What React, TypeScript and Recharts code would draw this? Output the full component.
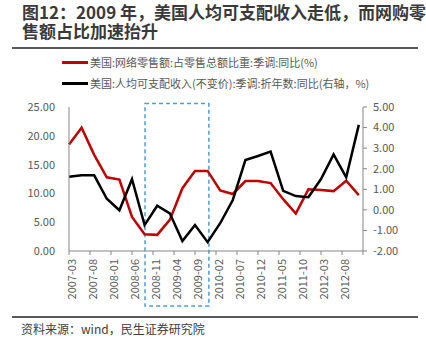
import React from "react";
import {
  ComposedChart,
  Line,
  XAxis,
  YAxis,
  ReferenceArea,
} from "recharts";

// 季度数据
const quarters = [
  "2007-03", "2007-06", "2007-09", "2007-12",
  "2008-03", "2008-06", "2008-09", "2008-12",
  "2009-03", "2009-06", "2009-09", "2009-12",
  "2010-03", "2010-06", "2010-09", "2010-12",
  "2011-03", "2011-06", "2011-09", "2011-12",
  "2012-03", "2012-06", "2012-09", "2012-12",
];

// 美国:网络零售额:占零售总额比重:季调:同比(%)
const onlineShare = [
  18.5, 21.4, 16.7, 12.8, 12.4, 5.9, 2.9, 2.8,
  5.4, 10.9, 13.9, 13.9, 10.5, 9.9, 12.15, 12.15,
  11.8, 9.0, 6.5, 10.7, 10.6, 10.4, 12.2, 9.7,
];

// 美国:人均可支配收入(不变价):季调:折年数:同比(右轴，%)
const incomeYoY = [
  1.61, 1.68, 1.68, 0.54, -0.02, 1.49, -0.74, 0.2,
  -0.17, -1.52, -0.74, -1.57, -0.65, 0.48, 2.42, 2.62,
  2.83, 0.92, 0.67, 0.61, 1.5, 2.7, 1.58, 4.13,
];

const tickLabels = [
  "2007-03", "2007-08", "2008-01", "2008-06", "2008-11", "2009-04", "2009-09",
  "2010-02", "2010-07", "2010-12", "2011-05", "2011-10", "2012-03", "2012-08",
];

const leftTicks = [0, 5, 10, 15, 20, 25];
const rightTicks = [-2, -1, 0, 1, 2, 3, 4, 5];

// 虚线框（2008-09 ~ 2009-12）
const boxStart = "2008-09";
const boxEnd = "2009-12";

const monthIndex = (s: string) => {
  const [y, m] = s.split("-").map(Number);
  return (y - 2007) * 12 + (m - 3);
};

const data = quarters.map((q, i) => ({
  m: monthIndex(q),
  share: onlineShare[i],
  income: incomeYoY[i],
}));

const xTicks = [...tickLabels.map(monthIndex), monthIndex("2013-01")];
const labelByIndex: Record<number, string> = {};
tickLabels.forEach((t) => (labelByIndex[monthIndex(t)] = t));

const FONT = "'Noto Sans CJK SC', 'Noto Sans', sans-serif";
const AXIS = "#868686";
const LABEL = "#595959";

function XTick({ x, y, payload }: any) {
  const text = labelByIndex[payload.value] ?? "";
  return (
    <text
      transform={`translate(${x + 2},${y + 2}) rotate(-90)`}
      textAnchor="end"
      dominantBaseline="central"
      fontSize={11}
      fill={LABEL}
      fontFamily={FONT}
    >
      {text}
    </text>
  );
}

export default function App() {
  return (
    <div
      style={{
        position: "absolute",
        left: 0,
        top: 0,
        width: 426,
        height: 348,
        background: "#fff",
        fontFamily: FONT,
        overflow: "hidden",
      }}
    >
      <div
        style={{
          position: "absolute",
          left: 22,
          top: 2,
          fontSize: 17,
          fontWeight: 700,
          color: "#3a3a3a",
          whiteSpace: "nowrap",
        }}
      >
        <div style={{ height: 19, lineHeight: "19px" }}>图12：2009 年，美国人均可支配收入走低，而网购零</div>
        <div style={{ height: 19, lineHeight: "19px" }}>售额占比加速抬升</div>
      </div>
      <div style={{ position: "absolute", left: 12, top: 47, width: 406, height: 2, background: "#595959" }} />

      <div style={{ position: "absolute", left: 62, top: 54, fontSize: 11, color: LABEL, lineHeight: "17px" }}>
        <div style={{ display: "flex", alignItems: "center", height: 17 }}>
          <span style={{ display: "inline-block", width: 26, height: 3, background: "#C00000", marginRight: 2 }} />
          美国:网络零售额:占零售总额比重:季调:同比(%)
        </div>
        <div style={{ display: "flex", alignItems: "center", height: 17, marginTop: 4 }}>
          <span style={{ display: "inline-block", width: 26, height: 3, background: "#000", marginRight: 2 }} />
          美国:人均可支配收入(不变价):季调:折年数:同比(右轴，%)
        </div>
      </div>

      <div style={{ position: "absolute", left: 0, top: 0 }}>
        <ComposedChart
          width={426}
          height={348}
          data={data}
          margin={{ top: 107, right: 8, bottom: 37, left: 19 }}
        >
          <XAxis
            dataKey="m"
            type="number"
            domain={[0, 70]}
            ticks={xTicks}
            interval={0}
            tick={<XTick />}
            tickSize={4}
            stroke={AXIS}
            height={60}
          />
          <YAxis
            yAxisId="left"
            domain={[0, 25]}
            ticks={leftTicks}
            tickFormatter={(v: number) => v.toFixed(2)}
            tick={{ fontSize: 11, fill: LABEL, fontFamily: FONT }}
            tickLine={false}
            tickSize={0}
            tickMargin={14}
            stroke={AXIS}
            width={50}
          />
          <YAxis
            yAxisId="right"
            orientation="right"
            domain={[-2, 5]}
            ticks={rightTicks}
            tickFormatter={(v: number) => v.toFixed(2)}
            tick={{ fontSize: 11, fill: LABEL, fontFamily: FONT }}
            tickSize={4}
            tickMargin={6}
            stroke={AXIS}
            width={55}
          />
          <Line
            yAxisId="left"
            type="linear"
            dataKey="share"
            stroke="#C00000"
            strokeWidth={2.5}
            dot={false}
            isAnimationActive={false}
          />
          <Line
            yAxisId="right"
            type="linear"
            dataKey="income"
            stroke="#000000"
            strokeWidth={2.5}
            dot={false}
            isAnimationActive={false}
          />
          <ReferenceArea
            yAxisId="left"
            x1={monthIndex(boxStart) + 0.1}
            x2={monthIndex(boxEnd) + 0.3}
            y1={-9.55}
            y2={25.6}
            ifOverflow="visible"
            fill="none"
            stroke="#4A9EDB"
            strokeWidth={1.5}
            strokeDasharray="4 3"
          />
        </ComposedChart>
      </div>

      <div style={{ position: "absolute", left: 12, top: 316, width: 406, height: 2, background: "#595959" }} />
      <div style={{ position: "absolute", left: 21, top: 320, fontSize: 12, color: "#404040", lineHeight: "18px" }}>
        资料来源：wind，民生证券研究院
      </div>
    </div>
  );
}
